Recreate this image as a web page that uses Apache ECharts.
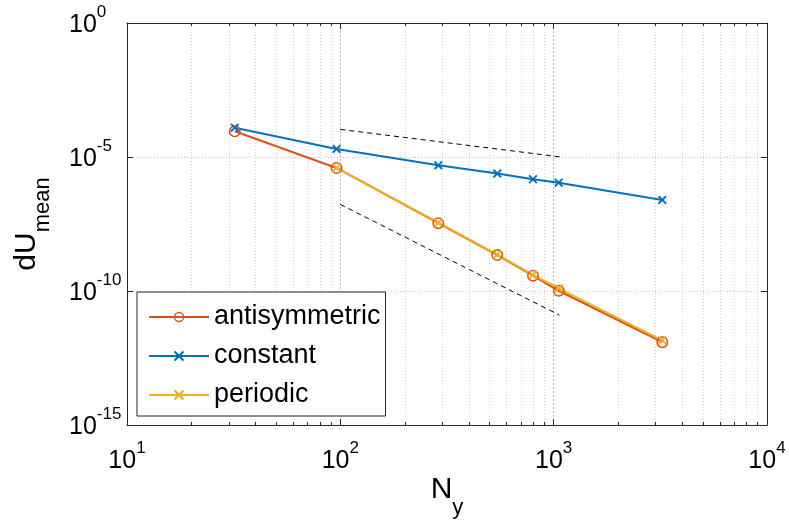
<!DOCTYPE html>
<html>
<head>
<meta charset="utf-8">
<script src="https://cdn.jsdelivr.net/npm/echarts@6/dist/echarts.min.js"></script>
<style>html,body{margin:0;padding:0;background:#fff;}#c{width:789px;height:525px;}</style>
</head>
<body>
<div id="c"></div>
<script>
// ---- data ----
const nY = [32, 96, 288, 544, 800, 1056, 3230];
const antisymmetric = [9.1e-5, 3.89e-6, 3.39e-8, 2.19e-9, 3.72e-10, 1.02e-10, 1.23e-12];
const constant = [1.24e-4, 2.0e-5, 4.9e-6, 2.4e-6, 1.48e-6, 1.10e-6, 2.5e-7];
const periodicN = [96, 288, 544, 800, 1056, 3230];
const periodic = [3.89e-6, 3.55e-8, 2.29e-9, 3.98e-10, 1.26e-10, 1.45e-12];
const refN = [100, 1064];
const refUpper = [1.07e-4, 1.02e-5];
const refLower = [1.70e-7, 1.26e-11];
const xMinorTicks = [20,30,40,50,60,70,80,90,200,300,400,500,600,700,800,900,2000,3000,4000,5000,6000,7000,8000,9000];
const seriesNames = ['antisymmetric', 'constant', 'periodic'];

const C_ANTI = '#D95319', C_CONST = '#0072BD', C_PER = '#EDB120';
const AXC = '#262626';
const FONT = 'Liberation Sans';
const CROSS = 'path://M0,1.5L1.5,0L5,3.5L8.5,0L10,1.5L6.5,5L10,8.5L8.5,10L5,6.5L1.5,10L0,8.5L3.5,5Z';
const RING = 'path://M0,5A5,5 0 1,1 10,5A5,5 0 1,1 0,5ZM1.3,5A3.7,3.7 0 1,0 8.7,5A3.7,3.7 0 1,0 1.3,5Z';

const zip = (xs, ys) => xs.map((x, i) => [x, ys[i]]);
const expLabel = v => '{b|10}{s|' + Math.round(Math.log10(v)) + '}';
const tok = (size, h) => ({fontSize: size, fontFamily: FONT, color: '#000', height: h, lineHeight: h, verticalAlign: 'top'});
const tickRich = {b: tok(25, 43), s: tok(17, 17)};

const chart = echarts.init(document.getElementById('c'), null, {renderer: 'canvas'});
chart.setOption({
  animation: false,
  backgroundColor: '#fff',
  grid: {left: 127, right: 22, top: 23, bottom: 100, containLabel: false, outerBoundsMode: 'none'},
  legend: {
    data: seriesNames,
    orient: 'vertical',
    left: 137, top: 292,
    padding: [11, 5, 7, 11],
    itemWidth: 60, itemHeight: 13, itemGap: 11,
    backgroundColor: '#fff',
    borderColor: AXC, borderWidth: 1,
    textStyle: {fontSize: 27, fontFamily: FONT, color: '#000', lineHeight: 28}
  },
  xAxis: [{
    type: 'log', logBase: 10, min: 10, max: 10000,
    name: '{n|N}{sub|y}', nameLocation: 'middle', nameGap: 50, nameMoveOverlap: false,
    nameTextStyle: {rich: {n: tok(30, 30), sub: tok(22, 66)}},
    axisLine: {show: true, lineStyle: {color: AXC, width: 1}},
    axisTick: {show: true, inside: true, length: 6, lineStyle: {color: AXC}},
    minorTick: {show: false},
    axisLabel: {formatter: expLabel, margin: 15, rich: tickRich},
    splitLine: {show: true, lineStyle: {color: '#b8b8b8', type: [2, 2], width: 1}}
  }, {
    type: 'log', logBase: 10, min: 10, max: 10000, position: 'top',
    axisLine: {show: true, lineStyle: {color: AXC, width: 1}},
    axisTick: {show: true, inside: true, length: 6, lineStyle: {color: AXC}},
    axisLabel: {show: false}, splitLine: {show: false}
  }],
  yAxis: [{
    type: 'log', logBase: 10, min: 1e-15, max: 1, interval: 5, splitNumber: 3,
    name: '{n|dU}{sub|mean}', nameLocation: 'middle', nameGap: 53, nameMoveOverlap: false,
    nameTextStyle: {rich: {n: tok(30, 30), sub: tok(22, 62)}},
    axisLine: {show: true, lineStyle: {color: AXC, width: 1}},
    axisTick: {show: true, inside: true, length: 6, lineStyle: {color: AXC}},
    minorTick: {show: false},
    axisLabel: {formatter: expLabel, margin: 58, align: 'left', rich: tickRich, padding: [5, 0, 0, 0]},
    splitLine: {show: true, lineStyle: {color: '#c4c4c4', type: [1, 2], width: 1}}
  }, {
    type: 'log', logBase: 10, min: 1e-15, max: 1, interval: 5, splitNumber: 3, position: 'right',
    axisLine: {show: true, lineStyle: {color: AXC, width: 1}},
    axisTick: {show: true, inside: true, length: 6, lineStyle: {color: AXC}},
    axisLabel: {show: false}, splitLine: {show: false}
  }],
  series: [
    {
      type: 'custom', silent: true, z: 1,
      data: xMinorTicks.map(v => [v, 1e-5]),
      encode: {x: 0, y: 1},
      renderItem: function (params, api) {
        const cs = params.coordSys;
        const px = Math.round(api.coord([api.value(0), api.value(1)])[0]) + 0.5;
        const top = cs.y, bot = cs.y + cs.height;
        return {type: 'group', children: [
          {type: 'line', shape: {x1: px, y1: top, x2: px, y2: bot}, style: {stroke: '#d2d2d2', lineWidth: 1, lineDash: [1, 2]}},
          {type: 'line', shape: {x1: px, y1: bot, x2: px, y2: bot - 3}, style: {stroke: AXC, lineWidth: 1}},
          {type: 'line', shape: {x1: px, y1: top, x2: px, y2: top + 3}, style: {stroke: AXC, lineWidth: 1}}
        ]};
      }
    },
    {
      name: 'ref1', type: 'line', data: zip(refN, refUpper), symbol: 'none', silent: true,
      lineStyle: {color: '#000', width: 1, type: [5, 4]}, z: 2
    },
    {
      name: 'ref2', type: 'line', data: zip(refN, refLower), symbol: 'none', silent: true,
      lineStyle: {color: '#000', width: 1, type: [5, 4]}, z: 2
    },
    {
      name: 'antisymmetric', type: 'line', data: zip(nY, antisymmetric),
      symbol: RING, symbolSize: 12, showAllSymbol: true,
      itemStyle: {color: C_ANTI}, lineStyle: {color: C_ANTI, width: 2}, z: 3
    },
    {
      name: 'constant', type: 'line', data: zip(nY, constant),
      symbol: CROSS, symbolSize: 9, showAllSymbol: true,
      itemStyle: {color: C_CONST}, lineStyle: {color: C_CONST, width: 2}, z: 3
    },
    {
      name: 'periodic', type: 'line', data: zip(periodicN, periodic),
      symbol: CROSS, symbolSize: 9, showAllSymbol: true,
      itemStyle: {color: C_PER}, lineStyle: {color: C_PER, width: 2}, z: 3
    }
  ]
});
</script>
</body>
</html>
